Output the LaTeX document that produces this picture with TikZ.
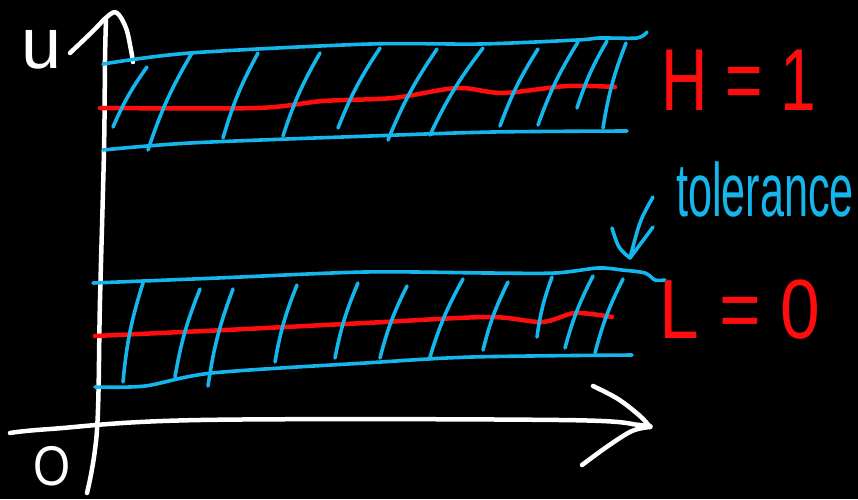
\documentclass[tikz,border=0pt]{standalone}
\usepackage{fontspec}
\setmainfont{Liberation Sans}
\definecolor{penblue}{RGB}{20,182,236}
\definecolor{penred}{RGB}{255,12,12}
\begin{document}
\begin{tikzpicture}[x=1pt,y=-1pt,
  pen/.style={line cap=round,line join=round},
  whitepen/.style={pen,draw=white,line width=4.5pt},
  bluepen/.style={pen,draw=penblue,line width=3.6pt},
  redpen/.style={pen,draw=penred,line width=4.5pt},
  lbl/.style={inner sep=0pt,outer sep=0pt}]
\path[fill=black] (0,0) rectangle (858,499);
\useasboundingbox (0,0) rectangle (858,499);

% axes
\coordinate (ybot) at (87,493);
\coordinate (ytop) at (106,20);
\coordinate (xleft) at (10,433);
\coordinate (xtip) at (650,427);
\draw[whitepen] plot[smooth,tension=0.6] coordinates {(ybot) (97,430) (100,300) (104,150) (105,60) (ytop)};
\draw[whitepen] plot[smooth,tension=0.6] coordinates {(70,53) (92,32) (108,16) (117,13) (126,28) (131,50) (133,62)};
\draw[whitepen] plot[smooth,tension=0.6] coordinates {(xleft) (50,429) (200,420) (560,420) (640,425) (xtip)};
\draw[whitepen] plot[smooth,tension=0.6] coordinates {(593,386) (618,399) (640,416) (xtip)};
\draw[whitepen] plot[smooth,tension=0.6] coordinates {(582,465) (608,446) (632,431) (xtip)};

% top band (H)
\draw[redpen] plot[smooth,tension=0.5] coordinates {(100,108) (257,108) (323,101) (393,98) (457,88) (503,93) (567,86) (615,87)};
\draw[bluepen] plot[smooth,tension=0.5] coordinates {(103,64) (190,53) (370,44) (480,44) (577,40) (600,38) (637,38) (647,32)};
\draw[bluepen] plot[smooth,tension=0.5] coordinates {(103,150) (190,143) (370,136) (493,132) (627,131)};
\foreach \ax/\ay/\bx/\by in {147/67/113/127,192/53/148/150,258/53/223/138,320/53/283/136,380/48/338/128,437/49/388/140,483/48/430/135,538/49/500/126,578/42/538/125,607/41/577/108,626/43/603/128}
  \draw[bluepen] (\ax,\ay) to[bend right=6] (\bx,\by);

% bottom band (L)
\draw[redpen] plot[smooth,tension=0.5] coordinates {(95,336) (225,330) (365,323) (488,317) (542,322) (575,313) (612,317)};
\draw[bluepen] plot[smooth,tension=0.5] coordinates {(93,283) (218,278) (365,272) (488,273) (555,273) (598,268) (622,270) (645,273) (655,280) (665,280)};
\draw[bluepen] plot[smooth,tension=0.5] coordinates {(95,387) (145,386) (212,373) (365,363) (472,357) (632,355)};
\foreach \ax/\ay/\bx/\by in {143/283/123/382,200/289/175/377,233/289/208/386,297/285/275/362,358/283/335/358,407/286/380/358,463/279/430/357,508/282/483/350,552/277/537/337,593/276/565/348,623/279/595/353}
  \draw[bluepen] (\ax,\ay) to[bend right=6] (\bx,\by);

% labels
\node[lbl,text=white,font=\fontsize{72}{72}\selectfont] (u) at (42,50) {u};
\node[lbl,text=white,font=\fontsize{56}{56}\selectfont] (o) at (52,466) {\scalebox{0.85}[1]{O}};
\node[lbl,text=penred,font=\fontsize{88}{88}\selectfont] (h) at (739,80) {\scalebox{0.73}[1]{H = 1}};
\node[lbl,text=penred,font=\fontsize{84}{84}\selectfont] (l) at (740,310) {\scalebox{0.85}[1]{L = 0}};
\node[lbl,text=penblue,font=\fontsize{54}{54}\selectfont] (tol) at (765,189) {\scalebox{0.8}[1.4]{tolerance}};

% tolerance arrow
\coordinate (tolS) at (653,197);
\coordinate (tolE) at (630,258);
\draw[bluepen] (tolS) .. controls (640,220) .. (tolE);
\draw[bluepen] plot[smooth,tension=0.6] coordinates {(612,228) (619,247) (tolE)};
\draw[bluepen] (653,227) -- (tolE);
\end{tikzpicture}
\end{document}
